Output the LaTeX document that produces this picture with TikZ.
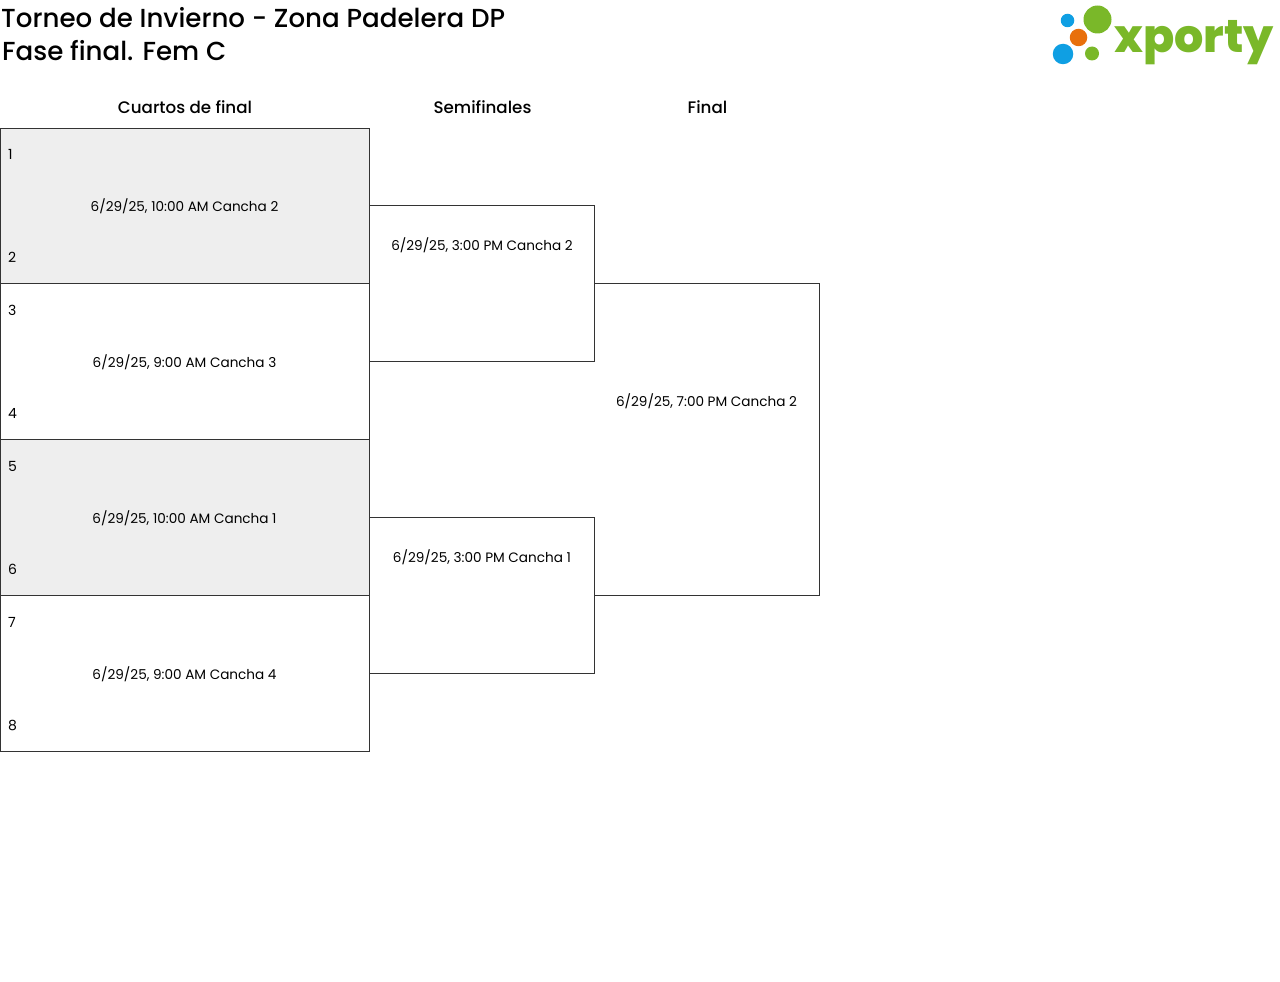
\documentclass[tikz,border=0pt]{standalone}
\usepackage{fontspec}
\setmainfont{Poppins}
\newfontfamily\medfont{Poppins Medium}
\newfontfamily\logofont{Poppins ExtraBold}
\definecolor{shade}{HTML}{EEEEEE}
\definecolor{lineC}{HTML}{333333}
\definecolor{xgreen}{HTML}{7AB829}
\definecolor{xblue}{HTML}{0F9FE3}
\definecolor{xorange}{HTML}{E8700C}
\tikzset{
  box/.style={draw=lineC,line width=0.8pt,anchor=north west,inner sep=0pt,outer sep=0pt},
  boxq/.style={box,minimum width=369pt,minimum height=156pt},
  boxs/.style={box,minimum width=225pt,minimum height=156pt},
  boxf/.style={anchor=north west,inner sep=0pt,outer sep=0pt,minimum width=225pt,minimum height=312pt},
  openside/.style={draw=lineC,line width=0.8pt},
  title/.style={anchor=west,inner sep=0pt,font=\medfont\fontsize{26.1}{30}\selectfont},
  head/.style={inner sep=0pt,font=\medfont\fontsize{16.7}{20}\selectfont},
  info/.style={inner sep=0pt,font=\fontsize{13.6}{17}\selectfont},
  seed/.style={anchor=west,inner sep=0pt,font=\fontsize{14}{17}\selectfont},
  dot/.style={circle,inner sep=0pt,outer sep=0pt},
}
\begin{document}
\begin{tikzpicture}[x=1pt,y=-1pt]
\useasboundingbox (0,0) rectangle (1280,982);
\node[title] (t1) at (1,17.5) {Torneo de Invierno - Zona Padelera DP};
\node[title] (t2) at (2,50.5) {Fase final. Fem C};
\node[head] (h1) at (185,107) {Cuartos de final};
\node[head] (h2) at (482.5,107) {Semifinales};
\node[head] (h3) at (707.5,107) {Final};
\node[boxq,fill=shade,minimum height=155pt] (q1) at (0.5,128.5) {};
\node[boxq] (q2) at (0.5,283.5) {};
\node[boxq,fill=shade] (q3) at (0.5,439.5) {};
\node[boxq] (q4) at (0.5,595.5) {};
\node[boxs] (s1) at (369.5,205.5) {};
\node[boxs] (s2) at (369.5,517.5) {};
\node[boxf] (f1) at (594.5,283.5) {};
\draw[openside] (f1.north west) -- (f1.north east) -- (f1.south east) -- (f1.south west);
\node[info] (iq1) at (184.5,206) {6/29/25, 10:00 AM Cancha 2};
\node[info] (iq2) at (184.5,362) {6/29/25, 9:00 AM Cancha 3};
\node[info] (iq3) at (184.5,518) {6/29/25, 10:00 AM Cancha 1};
\node[info] (iq4) at (184.5,674) {6/29/25, 9:00 AM Cancha 4};
\node[info] (is1) at (482,245) {6/29/25, 3:00 PM Cancha 2};
\node[info] (is2) at (482,557) {6/29/25, 3:00 PM Cancha 1};
\node[info] (if1) at (706.5,401) {6/29/25, 7:00 PM Cancha 2};
\node[seed] (n1) at (8,154) {1};
\node[seed] (n2) at (8,257) {2};
\node[seed] (n3) at (8,310) {3};
\node[seed] (n4) at (8,413) {4};
\node[seed] (n5) at (8,466) {5};
\node[seed] (n6) at (8,569) {6};
\node[seed] (n7) at (8,622) {7};
\node[seed] (n8) at (8,725) {8};
\node[dot,fill=xblue,minimum size=13.5pt] (d1) at (1067.5,20.5) {};
\node[dot,fill=xgreen,minimum size=28pt] (d2) at (1097.5,19.5) {};
\node[dot,fill=xorange,minimum size=17.5pt] (d3) at (1078.5,37.5) {};
\node[dot,fill=xblue,minimum size=20.5pt] (d4) at (1063,54) {};
\node[dot,fill=xgreen,minimum size=14pt] (d5) at (1092,53.5) {};
\node[anchor=base west,inner sep=0pt,text=xgreen,font=\logofont\fontsize{46}{50}\selectfont] (logo) at (1114,53) {xporty};
\end{tikzpicture}
\end{document}
